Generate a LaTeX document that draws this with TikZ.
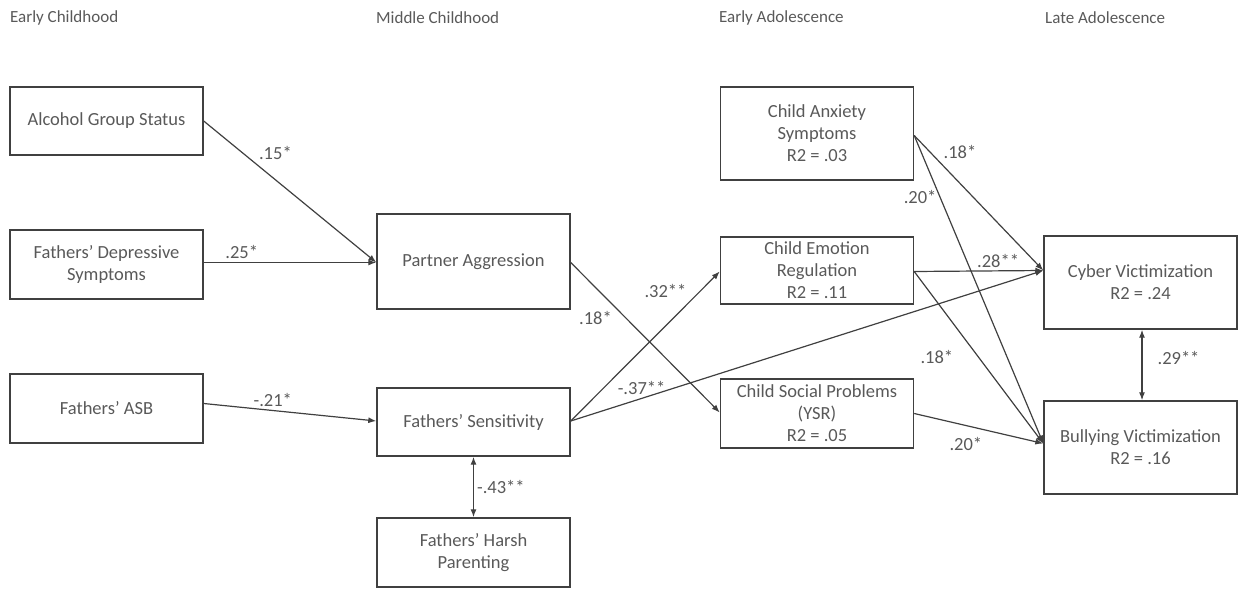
\documentclass[tikz,border=0pt]{standalone}
\usepackage{fontspec}
\setmainfont{Carlito}
\usepackage{tikz}
\usetikzlibrary{positioning,arrows.meta}
\definecolor{boxline}{HTML}{404040}
\definecolor{boxtext}{HTML}{595959}

\begin{document}
\begin{tikzpicture}[x=1pt,y=-1pt,-{Latex[length=8pt,width=6pt]},
		font=\fontsize{18.5}{22}\selectfont,
		box/.style ={rectangle, draw=boxline, line width=1.4pt, text=boxtext, align=center,
			minimum width=193pt, inner sep=2pt},
		stage/.style ={anchor=west, text=boxtext, inner sep=0pt, font=\fontsize{17}{20}\selectfont},
		path/.style ={draw=boxline, line width=1.2pt},
		coef/.style ={text=boxtext, inner sep=3pt}]
		\useasboundingbox (0,0) rectangle (1243,589);
		% stages
		\node[stage] (s1) at (10,18) {Early Childhood};
		\node[stage] (s2) at (376,18) {Middle Childhood};
		\node[stage] (s3) at (719,18) {Early Adolescence};
		\node[stage] (s4) at (1045,18) {Late Adolescence};
		% early childhood
		\node[box,minimum height=68pt] (alc) at (106.5,121) {Alcohol Group Status};
		\node[box,minimum height=69pt] (dep) at (106.5,264.5) {Fathers' Depressive\\Symptoms};
		\node[box,minimum height=69pt] (asb) at (106.5,408.5) {Fathers' ASB};
		% middle childhood
		\node[box,minimum height=95pt] (pa) at (473.5,261.5) {Partner Aggression};
		\node[box,minimum height=68pt] (fs) at (473.5,422) {Fathers' Sensitivity};
		\node[box,minimum height=69pt] (fhp) at (473.5,552.5) {Fathers' Harsh\\Parenting};
		% early adolescence
		\node[box,minimum height=93pt] (anx) at (817,133.5) {Child Anxiety\\Symptoms\\R2 = .03};
		\node[box,minimum height=67pt] (emo) at (817,270.5) {Child Emotion\\Regulation\\R2 = .11};
		\node[box,minimum height=69pt] (soc) at (817,413.5) {Child Social Problems\\(YSR)\\R2 = .05};
		% late adolescence
		\node[box,minimum height=93pt] (cyb) at (1140.5,282.5) {Cyber Victimization\\R2 = .24};
		\node[box,minimum height=93pt] (bul) at (1140.5,447.5) {Bullying Victimization\\R2 = .16};
		% paths
		\path (alc.east) edge[path] node[coef,pos=.3,above right] {.15*} ([yshift=-1pt]pa.west); % alc to pa
		\path ([yshift=2pt]dep.east) edge[path] node[coef,pos=.22,above] {.25*} ([yshift=-1pt]pa.west); % dep to pa
		\path ([yshift=5pt]asb.east) edge[path] node[coef,pos=.4,above] {-.21*} ([yshift=1pt]fs.west); % asb to fs
		\path (fs.south) edge[path,{Latex[length=8pt,width=6pt]}-{Latex[length=8pt,width=6pt]}] node[coef,pos=.5,right] {-.43**} (fhp.north); % fs with fhp
		\path ([yshift=-1pt]pa.east) edge[path] node[coef,pos=.3,below left] {.18*} ([yshift=1pt]soc.west); % pa to soc
		\path ([yshift=1pt]fs.east) edge[path] node[coef,pos=.8,above left] {.32**} ([yshift=-1pt]emo.west); % fs to emo
		\path ([yshift=1pt]fs.east) edge[path] node[coef,pos=.15,above] {-.37**} ([yshift=12pt]cyb.west); % fs to cyb
		\path ([yshift=-2pt]anx.east) edge[path] node[coef,pos=.2,above right] {.18*} ([yshift=12pt]cyb.west); % anx to cyb
		\path ([yshift=-2pt]anx.east) edge[path] node[coef,pos=.2,left] {.20*} ([yshift=4pt]bul.west); % anx to bul
		\path ([yshift=-1pt]emo.east) edge[path] node[coef,pos=.65,above] {.28**} ([yshift=12pt]cyb.west); % emo to cyb
		\path ([yshift=-1pt]emo.east) edge[path] node[coef,pos=.5,left=22pt] {.18*} ([yshift=4pt]bul.west); % emo to bul
		\path (soc.east) edge[path] node[coef,pos=.4,below=8pt] {.20*} ([yshift=4pt]bul.west); % soc to bul
		\path ([xshift=1.5pt]cyb.south) edge[path,{Latex[length=8pt,width=6pt]}-{Latex[length=8pt,width=6pt]}] node[coef,pos=.4,right=12pt] {.29**} ([xshift=1.5pt]bul.north); % cyb with bul
		\end{tikzpicture}
\end{document}
